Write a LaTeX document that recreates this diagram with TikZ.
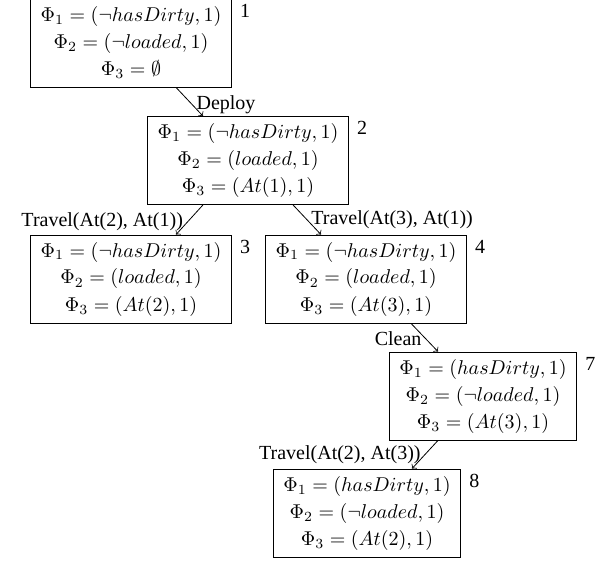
\documentclass[tikz,border=0pt]{standalone}
\usepackage{fontspec}
\setmainfont{Liberation Serif}
\begin{document}
\begin{tikzpicture}[x=0.5pt, y=-0.5pt, >=to,
		state/.style = {shape=rectangle, draw, align=center,
			inner xsep=5pt, minimum height=44pt},
		num/.style = {anchor=north west, inner sep=0pt, xshift=4pt, yshift=-2.5pt},
		act/.style = {inner sep=2pt}]
	\useasboundingbox (0,0) rectangle (613,560);
	% search states
	\node[state, label={[num]north east:1}] (s1) at (131,43)
		{$\Phi_1 = (\neg hasDirty, 1)$\\[1.5pt] $\Phi_2 = (\neg loaded, 1)$\\[1.5pt] $\Phi_3 = \emptyset$};
	\node[state, label={[num]north east:2}] (s2) at (248,160.5)
		{$\Phi_1 = (\neg hasDirty, 1)$\\[1.5pt] $\Phi_2 = (loaded, 1)$\\[1.5pt] $\Phi_3 = (At(1), 1)$};
	\node[state, label={[num]north east:3}] (s3) at (131,279)
		{$\Phi_1 = (\neg hasDirty, 1)$\\[1.5pt] $\Phi_2 = (loaded, 1)$\\[1.5pt] $\Phi_3 = (At(2), 1)$};
	\node[state, label={[num]north east:4}] (s4) at (366,279)
		{$\Phi_1 = (\neg hasDirty, 1)$\\[1.5pt] $\Phi_2 = (loaded, 1)$\\[1.5pt] $\Phi_3 = (At(3), 1)$};
	\node[state, label={[num]north east:7}] (s7) at (483,396)
		{$\Phi_1 = (hasDirty, 1)$\\[1.5pt] $\Phi_2 = (\neg loaded, 1)$\\[1.5pt] $\Phi_3 = (At(3), 1)$};
	\node[state, label={[num]north east:8}] (s8) at (367,513)
		{$\Phi_1 = (hasDirty, 1)$\\[1.5pt] $\Phi_2 = (\neg loaded, 1)$\\[1.5pt] $\Phi_3 = (At(2), 1)$};
	% actions
	\draw[->] ([xshift=22.5pt]s1.south) -- node[act, pos=0.6, anchor=west] {Deploy} ([xshift=-22.5pt]s2.north);
	\draw[->] ([xshift=-22.5pt]s2.south) -- node[act, pos=0.58, anchor=east] {Travel(At(2), At(1))} ([xshift=22.5pt]s3.north);
	\draw[->] ([xshift=22.5pt]s2.south) -- node[act, pos=0.5, anchor=west] {Travel(At(3), At(1))} ([xshift=-22.5pt]s4.north);
	\draw[->] ([xshift=22.5pt]s4.south) -- node[act, pos=0.55, anchor=east] {Clean} ([xshift=-22.5pt]s7.north);
	\draw[->] ([xshift=-22.5pt]s7.south) -- node[act, pos=0.5, anchor=east] {Travel(At(2), At(3))} ([xshift=22.5pt]s8.north);
\end{tikzpicture}
\end{document}
